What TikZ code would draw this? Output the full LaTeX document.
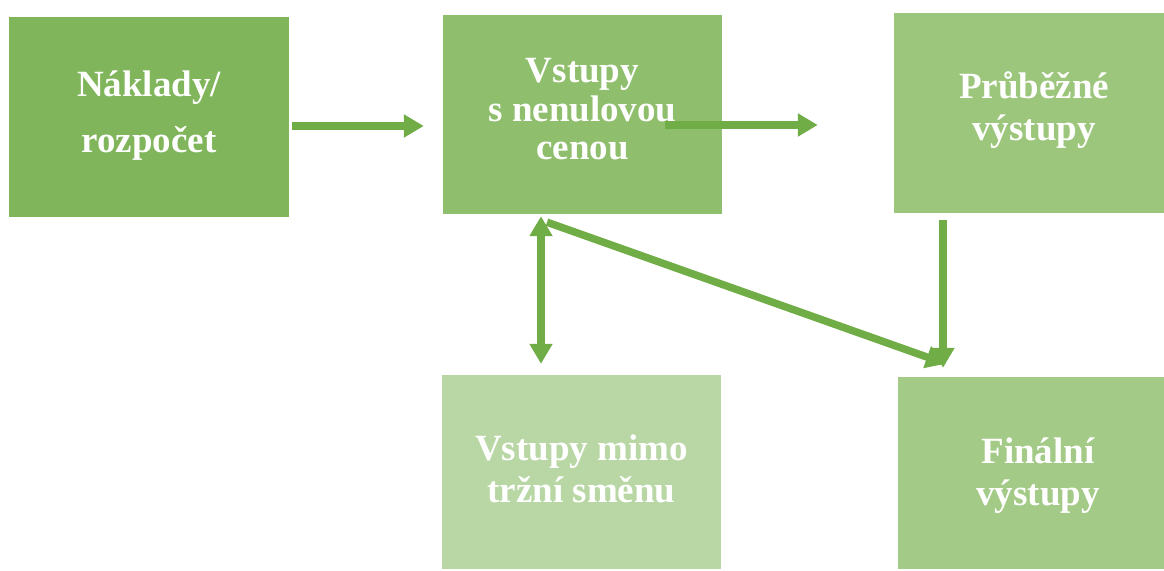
\documentclass[tikz,border=0pt]{standalone}
\usepackage{fontspec}
\setmainfont{Liberation Serif}
\usetikzlibrary{arrows.meta,calc}
\definecolor{arrowgreen}{HTML}{70AD47}
\definecolor{boxA}{HTML}{80B55B}
\definecolor{boxB}{HTML}{8FBE6C}
\definecolor{boxC}{HTML}{9DC67D}
\definecolor{boxD}{HTML}{A3CA87}
\definecolor{boxE}{HTML}{B9D7A5}
\tikzset{
  block/.style={rectangle, inner sep=0pt},
  caption/.style={inner sep=0pt, align=center, text=white,
    font=\bfseries\fontsize{37}{42}\selectfont},
  flow/.style={draw=arrowgreen, line width=7.5pt, -{Triangle[width=22pt,length=20pt]}},
  flowboth/.style={flow, {Triangle[width=22pt,length=20pt]}-{Triangle[width=22pt,length=20pt]}}
}
\begin{document}
\begin{tikzpicture}[x=1pt,y=-1pt]
\useasboundingbox (0,0) rectangle (1164,570);
\node[block, fill=boxA, minimum width=280pt, minimum height=200pt,
  label={[caption, yshift=1.5pt]center:Náklady/\\[14pt]rozpočet}] (cost) at (149,117) {};
\node[block, fill=boxB, minimum width=279pt, minimum height=199pt,
  label={[caption, yshift=5pt, font=\bfseries\fontsize{37}{38.5}\selectfont]center:Vstupy\\s nenulovou\\cenou}] (paid) at (582.5,114.5) {};
\node[block, fill=boxC, minimum width=270pt, minimum height=200pt,
  label={[caption, xshift=5pt, yshift=2.5pt]center:Průběžné\\výstupy}] (inter) at (1029,113) {};
\node[block, fill=boxE, minimum width=279pt, minimum height=194pt,
  label={[caption, yshift=3.5pt]center:Vstupy mimo\\tržní směnu}] (free) at (581.5,472) {};
\node[block, fill=boxD, minimum width=266pt, minimum height=192pt,
  label={[caption, xshift=7pt, yshift=-3pt]center:Finální\\výstupy}] (final) at (1031,473) {};
% connectors
\draw[flow] ($(cost.east)+(3,9)$) -- ($(paid.west)+(-19,11.5)$);
\draw[flow] ($(paid.east)+(-57,10.5)$) -- ($(inter.west)+(-76,12)$);
\draw[flowboth] ($(paid.south)+(-41.5,2)$) -- ($(free.north)+(-40.5,-11)$);
\draw[flow] ($(paid.south)+(-35.5,8)$) -- ($(final.north)+(-85,-13)$);
\draw[flow] ($(inter.south)+(-86,7)$) -- ($(final.north)+(-88,-9)$);
\end{tikzpicture}
\end{document}
